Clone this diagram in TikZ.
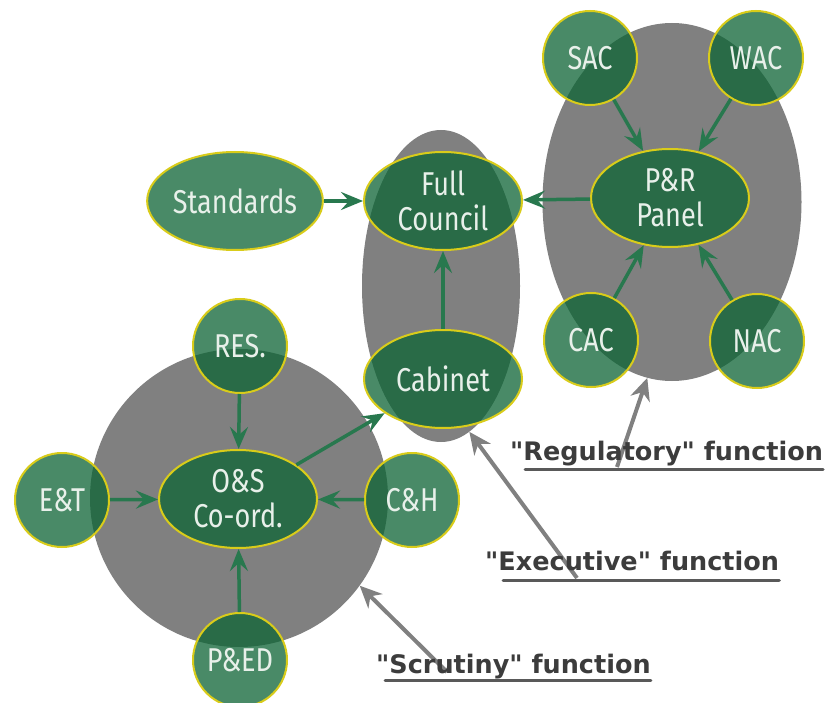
\documentclass[tikz,border=0pt]{standalone}
\usepackage{fontspec}
\setmainfont{Fira Sans}
\newfontfamily\unitfont[FakeStretch=0.82]{Fira Sans}
\newfontfamily\captionfont[Ligatures=TeXOff]{DejaVu Sans}
\usetikzlibrary{arrows.meta,shapes.geometric}

\definecolor{unitgreen}{RGB}{13,100,53}
\definecolor{rimyellow}{RGB}{217,204,26}
\definecolor{linkgreen}{RGB}{40,120,78}
\definecolor{blobgray}{RGB}{128,128,128}
\definecolor{captiongray}{RGB}{60,60,60}
\definecolor{unittext}{RGB}{232,240,234}

\tikzset{
  blob/.style={fill=blobgray, draw=none, inner sep=0pt},
  unit/.style={fill=unitgreen, fill opacity=0.75, text opacity=1,
    draw=rimyellow, draw opacity=1, line width=2pt, text=unittext,
    font=\unitfont\fontsize{33}{35}\selectfont, align=center, inner sep=0pt},
  roundunit/.style={unit, circle, minimum size=94},
  ovalunit/.style={unit, ellipse, minimum width=158, minimum height=98},
  link/.style={draw=linkgreen, line width=3.5pt,
    -{Stealth[length=22pt,width=18pt,inset=8pt]}},
  pointer/.style={draw=blobgray, line width=4pt,
    -{Stealth[length=22pt,width=20pt,inset=7pt]}},
  fncaption/.style={text=captiongray, inner sep=0pt,
    font=\captionfont\bfseries\fontsize{25.5}{30}\selectfont},
  uline/.style={draw=captiongray!85!white, line width=3pt, line cap=round}
}

\begin{document}
\begin{tikzpicture}[x=1pt, y=-1pt]
  \useasboundingbox[fill=white] (0,0) rectangle (827,703);

  % grey groupings behind the committees
  \node[blob, ellipse, minimum width=259, minimum height=358] (rblob) at (672,202) {};
  \node[blob, ellipse, minimum width=158, minimum height=312] (mblob) at (441,286) {};
  \node[blob, circle, minimum size=298] (sblob) at (239,498) {};

  % regulatory group
  \node[roundunit] (sac) at (590,58) {SAC};
  \node[roundunit] (wac) at (756,58) {WAC};
  \node[ovalunit] (pr) at (670,198) {P\&R\\Panel};
  \node[roundunit] (cac) at (591,340) {CAC};
  \node[roundunit] (nac) at (757,341) {NAC};

  % executive group
  \node[ovalunit] (std) at (235,201) {Standards};
  \node[ovalunit] (fc) at (443,201) {Full\\Council};
  \node[ovalunit] (cab) at (443,379) {Cabinet};

  % scrutiny group
  \node[roundunit] (res) at (240,346) {RES.};
  \node[ovalunit] (os) at (238,499) {O\&S\\Co-ord.};
  \node[roundunit] (et) at (62,500) {E\&T};
  \node[roundunit] (ch) at (412,500) {C\&H};
  \node[roundunit] (ped) at (240,660) {P\&ED};

  % reporting lines
  \draw[link] (std) -- (fc);
  \draw[link] (pr) -- (fc);
  \draw[link] (cab) -- (fc);
  \draw[link] (sac) -- (pr);
  \draw[link] (wac) -- (pr);
  \draw[link] (cac) -- (pr);
  \draw[link] (nac) -- (pr);
  \draw[link] (res) -- (os);
  \draw[link] (et) -- (os);
  \draw[link] (ch) -- (os);
  \draw[link] (ped) -- (os);
  \draw[link] (os) -- (cab);

  % captions with their pointers
  \coordinate (regtail) at (617,467);
  \coordinate (exetail) at (577,578);
  \coordinate (scrtail) at (447,672);
  \draw[pointer] (regtail) -- (rblob.262);
  \draw[pointer] (exetail) -- (mblob.281);
  \draw[pointer] (scrtail) -- (sblob.324);

  \node[fncaption, anchor=base west] (reg) at (510,460) {"Regulatory" function};
  \node[fncaption, anchor=base west] (exe) at (485,570) {"Executive" function};
  \node[fncaption, anchor=base west] (scr) at (376,673) {"Scrutiny" function};

  \draw[uline] ([shift={(15,9)}]reg.base west) -- ([shift={(0,9)}]reg.base east);
  \draw[uline] ([shift={(18,10)}]exe.base west) -- ([shift={(0,10)}]exe.base east);
  \draw[uline] ([shift={(9,7)}]scr.base west) -- ([shift={(0,7)}]scr.base east);
\end{tikzpicture}
\end{document}
